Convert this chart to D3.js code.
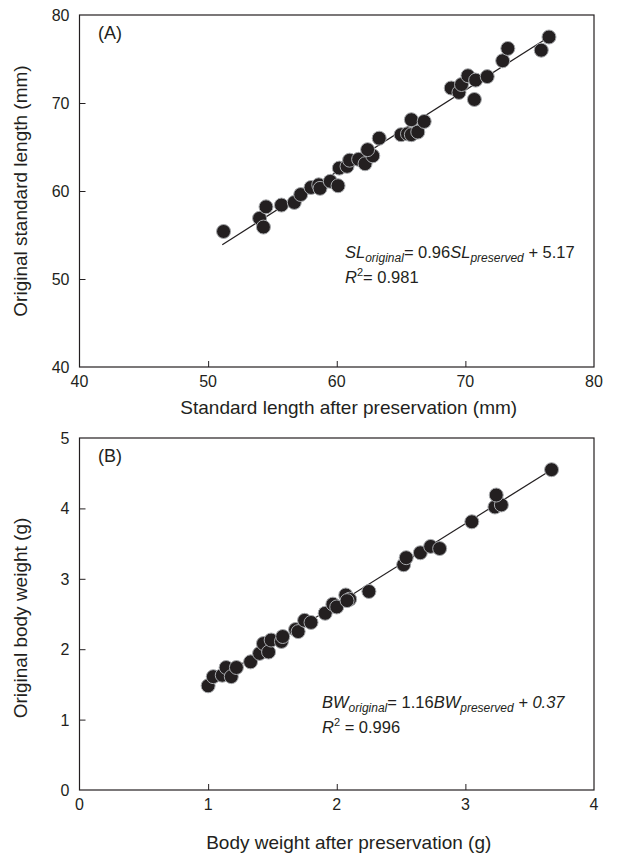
<!DOCTYPE html>
<html>
<head>
<meta charset="utf-8">
<script src="https://cdn.jsdelivr.net/npm/d3@7"></script>
<style>
  body { margin: 0; background: #fff; }
  text { font-family: "Liberation Sans", Arial, sans-serif; fill: #231f20; }
</style>
</head>
<body>
<div id="chart"></div>
<script>
// panel A: standard length (mm)
var slPreserved = [51.2, 54.0, 54.3, 54.5, 55.7, 56.7, 57.2, 58.0, 58.6, 58.7, 59.5, 60.1, 60.2, 60.8, 61.0, 61.7, 62.2, 62.8, 62.4, 63.3, 65.0, 65.5, 65.8, 66.3, 65.8, 66.8, 68.9, 69.5, 69.7, 70.2, 70.8, 70.7, 71.7, 72.9, 73.3, 75.9, 76.5];
var slOriginal  = [55.4, 56.9, 55.9, 58.2, 58.4, 58.7, 59.6, 60.4, 60.7, 60.3, 61.1, 60.6, 62.6, 62.8, 63.5, 63.6, 63.1, 64.0, 64.7, 66.0, 66.4, 66.5, 66.4, 66.7, 68.1, 67.9, 71.7, 71.2, 72.1, 73.1, 72.6, 70.4, 73.0, 74.8, 76.2, 76.0, 77.5];
var slLine = [[51.1, 53.9], [76.5, 77.5]];
var slTicks = [40, 50, 60, 70, 80];

// panel B: body weight (g)
var bwPreserved = [1.00, 1.04, 1.11, 1.14, 1.18, 1.22, 1.33, 1.40, 1.43, 1.47, 1.49, 1.57, 1.58, 1.68, 1.70, 1.75, 1.80, 1.91, 1.97, 2.00, 2.07, 2.10, 2.08, 2.25, 2.52, 2.54, 2.65, 2.73, 2.80, 3.05, 3.23, 3.28, 3.24, 3.67];
var bwOriginal  = [1.48, 1.61, 1.63, 1.74, 1.61, 1.74, 1.82, 1.94, 2.08, 1.96, 2.13, 2.11, 2.18, 2.28, 2.25, 2.41, 2.38, 2.51, 2.64, 2.60, 2.77, 2.71, 2.69, 2.82, 3.20, 3.30, 3.37, 3.46, 3.43, 3.81, 4.02, 4.05, 4.19, 4.55];
var bwLine = [[0.98, 1.47], [3.67, 4.55]];
var bwTicks = [0, 1, 2, 3, 4, 5];
var bwXTicks = [0, 1, 2, 3, 4];

var width = 617, height = 856;
var left = 79.5, right = 594;

var svg = d3.select('#chart').append('svg')
  .attr('width', width)
  .attr('height', height);

function drawPanel(opt) {
  var x = d3.scaleLinear().domain(opt.xDomain).range([left, right]);
  var y = d3.scaleLinear().domain(opt.yDomain).range([opt.bottom, opt.top]);
  var g = svg.append('g');

  // inward ticks, only between the ends
  var xAxis = d3.axisTop(x).tickValues(opt.xTicks.slice(1, -1)).tickSize(6).tickFormat('');
  g.append('g').attr('transform', 'translate(0,' + opt.bottom + ')').call(xAxis);
  var yAxis = d3.axisRight(y).tickValues(opt.yTicks.slice(1, -1)).tickSize(6).tickFormat('');
  g.append('g').attr('transform', 'translate(' + left + ',0)').call(yAxis);
  g.selectAll('.domain').remove();
  g.selectAll('.tick line').attr('stroke', '#231f20').attr('stroke-width', 1);

  g.append('rect')
    .attr('x', left).attr('y', opt.top)
    .attr('width', right - left).attr('height', opt.bottom - opt.top)
    .attr('fill', 'none').attr('stroke', '#231f20').attr('stroke-width', 1.2);

  g.selectAll('.xl').data(opt.xTicks).enter().append('text')
    .attr('x', function(d) { return x(d); })
    .attr('y', opt.bottom + 20)
    .attr('text-anchor', 'middle')
    .style('font-size', '16px')
    .text(function(d) { return d; });

  g.selectAll('.yl').data(opt.yTicks).enter().append('text')
    .attr('x', left - 10)
    .attr('y', function(d) { return y(d) + 6; })
    .attr('text-anchor', 'end')
    .style('font-size', '16px')
    .text(function(d) { return d; });

  g.append('text')
    .attr('x', (left + right) / 2 + 12)
    .attr('y', opt.xTitleY)
    .attr('text-anchor', 'middle')
    .style('font-size', '19px')
    .text(opt.xTitle);

  g.append('text')
    .attr('transform', 'translate(27,' + ((opt.top + opt.bottom) / 2 + opt.yTitleShift) + ') rotate(-90)')
    .attr('text-anchor', 'middle')
    .style('font-size', '19px')
    .text(opt.yTitle);

  g.append('text')
    .attr('x', 98).attr('y', opt.top + 24)
    .style('font-size', '18px')
    .text(opt.label);

  var line = d3.line()
    .x(function(d) { return x(d[0]); })
    .y(function(d) { return y(d[1]); });
  g.append('path')
    .datum(opt.line)
    .attr('d', line)
    .attr('fill', 'none')
    .attr('stroke', '#231f20')
    .attr('stroke-width', 1.2);

  g.selectAll('circle').data(opt.xs).enter().append('circle')
    .attr('cx', function(d) { return x(d); })
    .attr('cy', function(d, i) { return y(opt.ys[i]); })
    .attr('r', 7)
    .attr('fill', '#231f20')
    .attr('stroke', '#a7a9ac')
    .attr('stroke-width', 1);

  // equation, with italic parts
  var eq = g.append('text')
    .attr('x', opt.eqX).attr('y', opt.eqY)
    .style('font-size', '16.5px');
  opt.eq.forEach(function(p) {
    var s = eq.append('tspan').text(p[0]);
    if (p[1].indexOf('i') >= 0) s.style('font-style', 'italic');
    if (p[1].indexOf('s') >= 0) s.attr('baseline-shift', '-4').style('font-size', '12px');
  });
  var r2 = g.append('text')
    .attr('x', opt.eqX).attr('y', opt.eqY + 25)
    .style('font-size', '16.5px');
  r2.append('tspan').text('R').style('font-style', 'italic');
  r2.append('tspan').text('2').attr('baseline-shift', '7').style('font-size', '11px');
  r2.append('tspan').text(opt.r2);
}

drawPanel({
  xDomain: [40, 80], yDomain: [40, 80], top: 15, bottom: 367,
  xTicks: slTicks, yTicks: slTicks,
  xs: slPreserved, ys: slOriginal, line: slLine,
  xTitle: 'Standard length after preservation (mm)', xTitleY: 414,
  yTitle: 'Original standard length (mm)', yTitleShift: 0, label: '(A)',
  eqX: 345, eqY: 258,
  eq: [['SL', 'i'], ['original', 'is'], ['= 0.96', ''], ['SL', 'i'], ['preserved', 'is'], [' + 5.17', '']],
  r2: '= 0.981'
});

drawPanel({
  xDomain: [0, 4], yDomain: [0, 5], top: 438, bottom: 790,
  xTicks: bwXTicks, yTicks: bwTicks,
  xs: bwPreserved, ys: bwOriginal, line: bwLine,
  xTitle: 'Body weight after preservation (g)', xTitleY: 849,
  yTitle: 'Original body weight (g)', yTitleShift: 4, label: '(B)',
  eqX: 322, eqY: 708,
  eq: [['BW', 'i'], ['original', 'is'], ['= 1.16', ''], ['BW', 'i'], ['preserved', 'is'], [' + 0.37', 'i']],
  r2: ' = 0.996'
});
</script>
</body>
</html>
